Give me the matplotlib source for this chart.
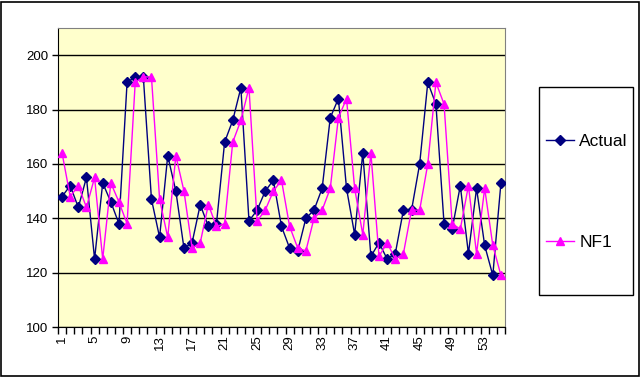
import numpy as np
import matplotlib
matplotlib.use('Agg')
from matplotlib import pyplot as plt
from matplotlib.patches import Rectangle

plt.rcParams['font.family'] = ['Liberation Sans', 'DejaVu Sans']

# data
periods = list(range(1, 56))
actual = [148, 152, 144, 155, 125, 153, 146, 138, 190, 192,
          192, 147, 133, 163, 150, 129, 131, 145, 137, 138,
          168, 176, 188, 139, 143, 150, 154, 137, 129, 128,
          140, 143, 151, 177, 184, 151, 134, 164, 126, 131,
          125, 127, 143, 143, 160, 190, 182, 138, 136, 152,
          127, 151, 130, 119, 153]
nf1 = [164, 148, 152, 144, 155, 125, 153, 146, 138, 190,
       192, 192, 147, 133, 163, 150, 129, 131, 145, 137,
       138, 168, 176, 188, 139, 143, 150, 154, 137, 129,
       128, 140, 143, 151, 177, 184, 151, 134, 164, 126,
       131, 125, 127, 143, 143, 160, 190, 182, 138, 136,
       152, 127, 151, 130, 119]
y_ticks = [100, 120, 140, 160, 180, 200]

W, H = 641, 377
fig = plt.figure(figsize=(W / 100, H / 100), dpi=100)
fig.patch.set_facecolor('white')
ax = fig.add_axes([58 / W, (H - 327) / H, 447 / W, 299 / H])
ax.set_facecolor('#FFFFCC')

ax.plot(periods, actual, color='#000080', lw=1.0, marker='D', ms=5,
        mfc='#000080', mec='#000080', label='Actual', zorder=3)
ax.plot(periods, nf1, color='#FF00FF', lw=1.0, marker='^', ms=6,
        mfc='#FF00FF', mec='#FF00FF', label='NF1', zorder=3)

ax.set_xlim(0.5, len(periods) + 0.5)
ax.set_ylim(100, 210)
ax.set_yticks(y_ticks)
ax.yaxis.grid(True, color='black', lw=1.0)
ax.set_axisbelow(True)
ax.tick_params(axis='y', direction='out', length=4, width=1, labelsize=9.5, pad=3)

ax.set_xticks(periods[::4])
ax.set_xticklabels([str(p) for p in periods[::4]], rotation=90)
ax.set_xticks(np.arange(0.5, len(periods) + 1, 1.0), minor=True)
ax.tick_params(axis='x', which='major', length=0, labelsize=9.5, pad=6)
ax.tick_params(axis='x', which='minor', direction='out', length=5, width=1)

for s in ['left', 'bottom']:
    ax.spines[s].set_color('black')
for s in ['top', 'right']:
    ax.spines[s].set_color('#808080')

# legend box
fig.patches.append(Rectangle((539 / W, (H - 295) / H), 94 / W, 208 / H,
                             transform=fig.transFigure, fill=False,
                             ec='black', lw=1.0))
leg = fig.legend(loc='center', bbox_to_anchor=(587 / W, (H - 192) / H),
                 frameon=False, fontsize=12.5, numpoints=1,
                 handlelength=1.6, handletextpad=0.3, labelspacing=4.9)

# outer chart border
fig.patches.append(Rectangle((0.5 / W, 1.5 / H), 638 / W, 374 / H,
                             transform=fig.transFigure, fill=False,
                             ec='black', lw=1.2))

fig.savefig('out.png', dpi=100)
